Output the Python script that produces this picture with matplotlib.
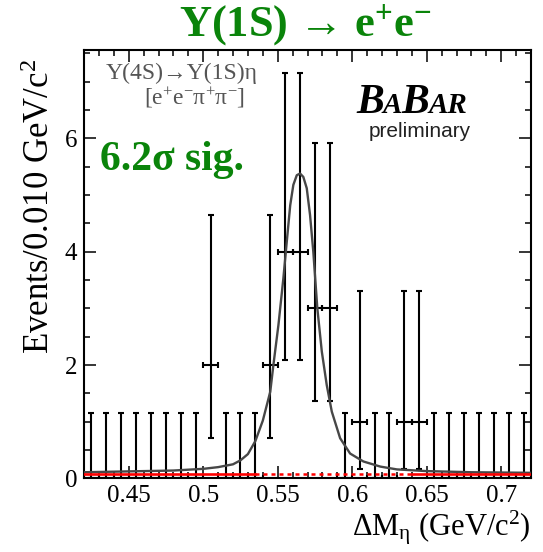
import matplotlib
matplotlib.use("Agg")
import matplotlib.pyplot as plt
from matplotlib.ticker import MultipleLocator

plt.rcParams['mathtext.fontset'] = 'custom'
plt.rcParams['mathtext.rm'] = 'Liberation Serif'
plt.rcParams['mathtext.it'] = 'Liberation Serif:italic'
plt.rcParams['mathtext.bf'] = 'Liberation Serif:bold'
plt.rcParams['font.family'] = ['Liberation Serif', 'DejaVu Serif']

# ---------------- data ----------------
bin_centers = [0.425, 0.435, 0.445, 0.455, 0.465, 0.475, 0.485, 0.495,
               0.505, 0.515, 0.525, 0.535, 0.545, 0.555, 0.565, 0.575,
               0.585, 0.595, 0.605, 0.615, 0.625, 0.635, 0.645, 0.655,
               0.665, 0.675, 0.685, 0.695, 0.705, 0.715]
counts = [0, 0, 0, 0, 0, 0, 0, 0,
          2, 0, 0, 0, 2, 4, 4, 3,
          3, 0, 1, 0, 0, 1, 1, 0,
          0, 0, 0, 0, 0, 0]
err_low = [0, 0, 0, 0, 0, 0, 0, 0,
           1.29, 0, 0, 0, 1.29, 1.91, 1.91, 1.63,
           1.63, 0, 0.83, 0, 0, 0.83, 0.83, 0,
           0, 0, 0, 0, 0, 0]
err_high = [1.15, 1.15, 1.15, 1.15, 1.15, 1.15, 1.15, 1.15,
            2.64, 1.15, 1.15, 1.15, 2.64, 3.16, 3.16, 2.92,
            2.92, 1.15, 2.30, 1.15, 1.15, 2.30, 2.30, 1.15,
            1.15, 1.15, 1.15, 1.15, 1.15, 1.15]
half_bin = 0.005

# total fit curve
curve_x = [0.420, 0.440, 0.460, 0.480, 0.500, 0.510, 0.520, 0.525, 0.530,
           0.535, 0.540, 0.545, 0.5471, 0.5505, 0.5538, 0.5561, 0.5584,
           0.5605, 0.5628, 0.5650, 0.5672, 0.5695, 0.5717, 0.5739, 0.5766,
           0.5796, 0.5829, 0.5863, 0.5919, 0.5986, 0.6075, 0.6188, 0.630,
           0.650, 0.680, 0.720]
curve_y = [0.11, 0.12, 0.13, 0.14, 0.17, 0.20, 0.25, 0.32, 0.43,
           0.66, 1.02, 1.53, 2.00, 2.71, 3.53, 4.18, 4.82,
           5.18, 5.35, 5.38, 5.32, 5.12, 4.65, 4.00, 3.00,
           2.24, 1.65, 1.18, 0.71, 0.44, 0.30, 0.21, 0.16,
           0.13, 0.11, 0.10]

# background component
bkg_level = 0.08
bkg_solid_ranges = [(0.420, 0.535), (0.640, 0.720)]
bkg_dashed_range = (0.535, 0.640)

x_range = (0.42, 0.72)
y_range = (0.0, 7.56)

green = '#0a840a'

# ---------------- figure ----------------
fig = plt.figure(figsize=(5.43, 5.52), dpi=100)
ax = fig.add_axes([0.1547, 0.1332, 0.8232, 0.7763])

ax.errorbar(bin_centers, counts, yerr=[err_low, err_high],
            xerr=[half_bin] * len(bin_centers),
            fmt='none', ecolor='black', elinewidth=1.5,
            capsize=2.3, capthick=1.5, zorder=3)

ax.plot(curve_x, curve_y, color='0.28', lw=1.7, zorder=4)

for a, b in bkg_solid_ranges:
    ax.plot([a, b], [bkg_level, bkg_level], color='red', lw=1.9, zorder=5)
ax.plot(list(bkg_dashed_range), [bkg_level, bkg_level], color='red', lw=1.8,
        ls=(0, (1.6, 1.6)), zorder=5)

ax.set_xlim(*x_range)
ax.set_ylim(*y_range)

ax.xaxis.set_minor_locator(MultipleLocator(0.01))
ax.yaxis.set_minor_locator(MultipleLocator(0.5))
ax.set_xticks([0.45, 0.5, 0.55, 0.6, 0.65, 0.7])
ax.set_xticklabels(['0.45', '0.5', '0.55', '0.6', '0.65', '0.7'])
ax.set_yticks([0, 2, 4, 6])
ax.set_yticklabels(['0', '2', '4', '6'])

ax.tick_params(which='both', direction='in', top=True, right=True,
               width=1.1, labelsize=18, colors='black')
ax.tick_params(which='major', length=8.5, pad=5)
ax.tick_params(which='minor', length=4.5)
for s in ax.spines.values():
    s.set_linewidth(1.5)

# axis titles
fig.text(0.074, 0.893, 'Events/0.010 GeV/c$^{2}$', rotation=90,
         ha='center', va='top', fontsize=25)
fig.text(0.977, 0.044, 'ΔM$_{\\mathrm{η}}$ (GeV/c$^{2}$)', ha='right',
         va='center', fontsize=22)

# title
fig.text(0.562, 0.955, 'Υ(1S) → e$^{\\mathbf{+}}$e$^{\\mathbf{-}}$',
         ha='center', va='center', fontsize=32, fontweight='bold',
         color=green)

# annotations inside
ax.text(0.4348, 7.15, 'Υ(4S)→Υ(1S)η', ha='left', va='center',
        fontsize=17, color='#555555')
ax.text(0.4939, 6.71, '[e$^{+}$e$^{-}$π$^{+}$π$^{-}$]', ha='center',
        va='center', fontsize=17, color='#555555')
ax.text(0.4308, 5.62, '6.2σ sig.', ha='left', va='center', fontsize=30,
        fontweight='bold', color=green)

# BABAR logo
big, small = 30, 21
t1 = ax.text(0.6026, 6.45, 'B', fontsize=big, fontstyle='italic',
             fontweight='bold', ha='left', va='baseline')
t2 = ax.annotate('A', xy=(1, 0), xycoords=t1, xytext=(-1, 2.0),
                 textcoords='offset points', fontsize=small,
                 fontstyle='italic', fontweight='bold', ha='left', va='bottom')
t3 = ax.annotate('B', xy=(1, 0), xycoords=t2, xytext=(0, -2.0),
                 textcoords='offset points', fontsize=big,
                 fontstyle='italic', fontweight='bold', ha='left', va='bottom')
t4 = ax.annotate('AR', xy=(1, 0), xycoords=t3, xytext=(-1, 2.0),
                 textcoords='offset points', fontsize=small,
                 fontstyle='italic', fontweight='bold', ha='left', va='bottom')
ax.text(0.6455, 6.13, 'preliminary', ha='center', va='center', fontsize=15,
        family='Liberation Sans', color='#222222')

fig.savefig('out.png', dpi=100)
